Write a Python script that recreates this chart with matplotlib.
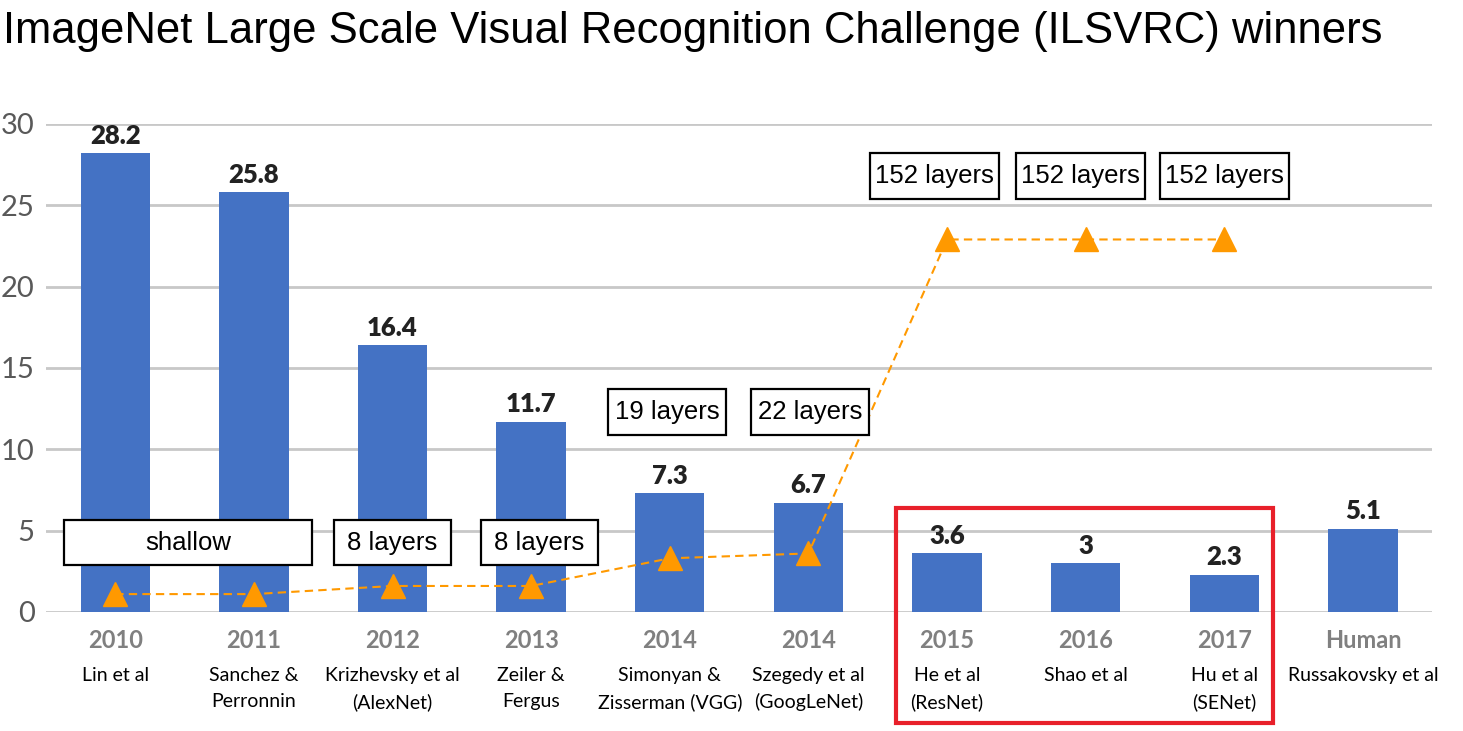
import matplotlib
matplotlib.use("Agg")
import matplotlib.pyplot as plt
from matplotlib.patches import Rectangle

# data
years = ["2010", "2011", "2012", "2013", "2014", "2014", "2015", "2016", "2017", "Human"]
authors = ["Lin et al", "Sanchez &\nPerronnin", "Krizhevsky et al\n(AlexNet)", "Zeiler &\nFergus",
           "Simonyan &\nZisserman (VGG)", "Szegedy et al\n(GoogLeNet)", "He et al\n(ResNet)",
           "Shao et al", "Hu et al\n(SENet)", "Russakovsky et al"]
top5_error = [28.2, 25.8, 16.4, 11.7, 7.3, 6.7, 3.6, 3, 2.3, 5.1]
depth_marker = [1.1, 1.1, 1.6, 1.6, 3.3, 3.6, 22.9, 22.9, 22.9]
depth_labels = ["shallow", "8 layers", "8 layers", "19 layers", "22 layers",
                "152 layers", "152 layers", "152 layers"]

BLUE = "#4472C4"
ORANGE = "#FF9900"
RED = "#E8202A"

fig = plt.figure(figsize=(14.63, 7.31), dpi=100)
ax = fig.add_axes([0.0314, 0.1628, 0.9476, 0.6676])

x = list(range(len(years)))
ax.bar(x, top5_error, width=0.5, color=BLUE, zorder=2)
for xi, v in zip(x, top5_error):
    ax.annotate(f"{v:g}", (xi, v), xytext=(0, 4), textcoords="offset points",
                ha="center", va="bottom", fontsize=18.5, fontweight="heavy",
                family="Lato", color="#222222")

ax.plot(x[:len(depth_marker)], depth_marker, color=ORANGE, lw=1.5,
        linestyle=(0, (4, 2.5)), marker="^", markersize=17, zorder=3)

ax.set_xlim(-0.5, 9.5)
ax.set_ylim(0, 30)
ax.set_yticks(range(0, 31, 5))
ax.grid(axis="y", color="#C8C8C8", lw=2, zorder=0)
ax.set_axisbelow(True)
for s in ax.spines.values():
    s.set_visible(False)
ax.tick_params(length=0)
ax.tick_params(axis="y", pad=8, labelsize=21, labelcolor="#595959")
for lab in ax.get_yticklabels():
    lab.set_family("Lato")

ax.set_xticks(x)
ax.set_xticklabels(years, fontsize=17, fontweight="bold", color="#808080", family="Lato")
ax.tick_params(axis="x", pad=12)

for xi, name in zip(x, authors):
    ax.text(xi, -0.113, name, transform=ax.get_xaxis_transform(), ha="center", va="top",
            fontsize=14, family="Lato", linespacing=1.6, color="black")

# layer-count boxes: (x centre, y centre, width) in data units
box_pos = [(0.527, 4.27, 1.79), (2.0, 4.27, 0.85), (3.06, 4.27, 0.85),
           (3.98, 12.3, 0.85), (5.01, 12.3, 0.85),
           (5.91, 26.8, 0.93), (6.96, 26.8, 0.93), (8.0, 26.8, 0.93)]
box_h = 2.8
for (bx, by, bw), txt in zip(box_pos, depth_labels):
    ax.add_patch(Rectangle((bx - bw / 2, by - box_h / 2), bw, box_h, facecolor="white",
                           edgecolor="black", lw=1.6, zorder=4))
    ax.text(bx, by, txt, ha="center", va="center", fontsize=18.5,
            family="Liberation Sans", zorder=5)

# red highlight around 2015-2017
ax.add_patch(Rectangle((5.635, -6.82), 2.713, 13.21, fill=False, edgecolor=RED,
                       lw=3, clip_on=False, zorder=6))

fig.text(0.002, 1 - 32 / 731, "ImageNet Large Scale Visual Recognition Challenge (ILSVRC) winners",
         ha="left", va="center", fontsize=31.4, family="Liberation Sans")

fig.savefig("out.png", dpi=100)
